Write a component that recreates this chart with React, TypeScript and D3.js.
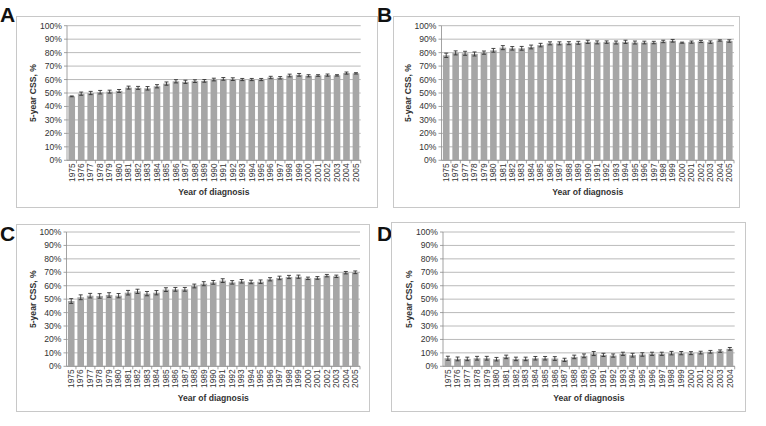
import React from 'react';
import * as d3 from 'd3';

const yearsABC = ["1975","1976","1977","1978","1979","1980","1981","1982","1983","1984","1985","1986","1987","1988","1989","1990","1991","1992","1993","1994","1995","1996","1997","1998","1999","2000","2001","2002","2003","2004","2005"];
const yearsD = ["1975","1976","1977","1978","1979","1980","1981","1982","1983","1984","1985","1986","1987","1988","1989","1990","1991","1992","1993","1994","1995","1996","1997","1998","1999","2000","2001","2002","2003","2004"];

const valuesA = [47.5,49.5,50,50.6,51,51.5,54,53.8,53.5,55,57,58.7,58.3,58.8,59,60,60.5,60.3,60,60,60,61.5,61.3,63,63.5,62.8,63,63.3,63.1,64.8,64.6];
const errsA = [0.3,1.2,1.2,1.3,1.1,1.1,1.1,1.1,1.3,1.2,1.2,1.2,1.2,1.0,1.0,1.0,1.0,1.0,0.8,0.8,0.8,0.9,0.9,1.0,1.0,0.8,0.6,0.8,0.5,0.8,0.5];

const valuesB = [78,79.8,79.5,79,80,81.7,83.7,83.2,83.2,84.2,85.6,86.9,86.9,87,87.3,88,87.6,87.8,87.5,88,87.5,87.5,87.5,88.3,88.8,87.4,87.8,88.3,87.8,89,88.6];
const errsB = [1.6,1.5,1.5,1.5,1.2,1.4,1.5,1.3,1.4,1.4,1.3,1.1,1.1,1.1,1.1,1.2,1.1,0.9,1.1,1.2,1.1,1.0,0.9,0.9,1.0,0.4,0.8,0.8,0.9,0.5,0.9];

const valuesC = [48.6,51.4,52.6,52.4,53.1,52.6,54.8,55.8,54.1,54.8,57.1,57.3,57.3,59.8,61.5,62.5,63.8,62.5,63.3,62.8,63,64.8,65.8,66.5,66.7,65.5,65.8,67.5,67,69.7,70];
const errsC = [1.8,1.8,1.7,1.7,1.7,1.6,1.7,1.6,1.6,1.6,1.4,1.4,1.4,1.4,1.5,1.4,1.4,1.3,1.3,1.3,1.3,1.2,1.3,1.2,1.2,0.9,1.0,0.9,0.9,0.9,1.0];

const valuesD = [6,5.5,5.5,6,6,5.3,7,5.5,5.5,6,6,5.8,4.8,7,7.8,9.5,8.5,8,9.3,8.3,8.8,9.3,9.3,9.8,9.8,9.8,10.2,10.8,11.3,13];
const errsD = [1.5,1.4,1.3,1.4,1.4,1.3,1.3,1.3,1.3,1.3,1.3,1.4,1.2,1.3,1.4,1.5,1.2,1.2,1.2,1.4,1.3,1.2,1.2,1.3,1.2,1.1,1.0,1.0,0.9,1.0];

const yTicks = [0,10,20,30,40,50,60,70,80,90,100];

const FONT = "'Liberation Sans', Arial, sans-serif";

type PanelProps = {
  letter: string;
  years: string[];
  values: number[];
  errs: number[];
  frame: { x: number; y: number; w: number; h: number };
  plot: { x0: number; x1: number; y0: number; y1: number };
  letterPos: { x: number; y: number };
};

function Panel({ letter, years, values, errs, frame, plot, letterPos }: PanelProps) {
  const x = d3.scaleBand<string>().domain(years).range([plot.x0, plot.x1]).paddingInner(0.3).paddingOuter(0.15);
  const y = d3.scaleLinear().domain([0, 100]).range([plot.y1, plot.y0]);
  const step = x.step();
  const bw = x.bandwidth();
  const cx = (plot.x0 + plot.x1) / 2;
  const cy = (plot.y0 + plot.y1) / 2;
  return (
    <g>
      <text x={letterPos.x} y={letterPos.y} fontFamily={FONT} fontWeight="bold" fontSize={21} fill="#111">{letter}</text>
      <rect x={frame.x + 0.5} y={frame.y + 0.5} width={frame.w} height={frame.h} fill="#fff" stroke="#c8c8c8" strokeWidth={1} />
      {yTicks.map(t => (
        <g key={t}>
          <line x1={plot.x0} x2={plot.x1} y1={y(t)} y2={y(t)} stroke="#a8a8a8" strokeWidth={0.8} />
          <line x1={plot.x0 - 3} x2={plot.x0} y1={y(t)} y2={y(t)} stroke="#8c8c8c" strokeWidth={0.8} />
          <text x={plot.x0 - 5} y={y(t)} dy="0.35em" textAnchor="end" fontFamily={FONT} fontSize={8.6} fill="#333">{t}%</text>
        </g>
      ))}
      <line x1={plot.x0} x2={plot.x0} y1={plot.y0} y2={plot.y1} stroke="#8c8c8c" strokeWidth={0.8} />
      <line x1={plot.x0} x2={plot.x1} y1={plot.y1} y2={plot.y1} stroke="#8c8c8c" strokeWidth={0.8} />
      {years.map((yr, i) => {
        const bx = x(yr)!;
        const v = values[i];
        const e = errs[i];
        const mx = bx + bw / 2;
        return (
          <g key={yr}>
            <rect x={bx} y={y(v)} width={bw} height={y(0) - y(v)} fill="#a6a6a6" />
            <line x1={mx} x2={mx} y1={y(v + e)} y2={y(v - e)} stroke="#333" strokeWidth={0.9} />
            <line x1={mx - 2} x2={mx + 2} y1={y(v + e)} y2={y(v + e)} stroke="#333" strokeWidth={0.9} />
            <line x1={mx - 2} x2={mx + 2} y1={y(v - e)} y2={y(v - e)} stroke="#333" strokeWidth={0.9} />
            <line x1={plot.x0 + step * (i + 1)} x2={plot.x0 + step * (i + 1)} y1={plot.y1} y2={plot.y1 + 3} stroke="#8c8c8c" strokeWidth={0.8} />
            <text transform={`translate(${mx},${plot.y1 + 3}) rotate(-90)`} dy="0.33em" textAnchor="end" fontFamily={FONT} fontSize={8.4} fill="#333">{yr}</text>
          </g>
        );
      })}
      <text x={cx} y={plot.y1 + 35} textAnchor="middle" fontFamily={FONT} fontWeight="bold" fontSize={8.6} fill="#333">Year of diagnosis</text>
      <text transform={`translate(${plot.x0 - 31},${cy}) rotate(-90)`} textAnchor="middle" fontFamily={FONT} fontWeight="bold" fontSize={8.6} fill="#333">5-year CSS, %</text>
    </g>
  );
}

export default function App() {
  return (
    <svg width={766} height={426} style={{ position: 'absolute', left: 0, top: 0, background: '#fff' }}>
      <rect width={766} height={426} fill="#fff" />
      <Panel letter="A" years={yearsABC} values={valuesA} errs={errsA}
        frame={{ x: 16, y: 16, w: 361, h: 191 }} plot={{ x0: 67, x1: 360.7, y0: 25.7, y1: 160.3 }} letterPos={{ x: 0, y: 22 }} />
      <Panel letter="B" years={yearsABC} values={valuesB} errs={errsB}
        frame={{ x: 393, y: 16, w: 346, h: 191 }} plot={{ x0: 441.5, x1: 734, y0: 25.7, y1: 160.3 }} letterPos={{ x: 377, y: 22 }} />
      <Panel letter="C" years={yearsABC} values={valuesC} errs={errsC}
        frame={{ x: 16, y: 224, w: 353, h: 187 }} plot={{ x0: 66.5, x1: 360, y0: 232, y1: 366.3 }} letterPos={{ x: 0, y: 241 }} />
      <Panel letter="D" years={yearsD} values={valuesD} errs={errsD}
        frame={{ x: 391, y: 222, w: 354, h: 189 }} plot={{ x0: 443, x1: 734.7, y0: 232, y1: 366.3 }} letterPos={{ x: 377, y: 241 }} />
    </svg>
  );
}
